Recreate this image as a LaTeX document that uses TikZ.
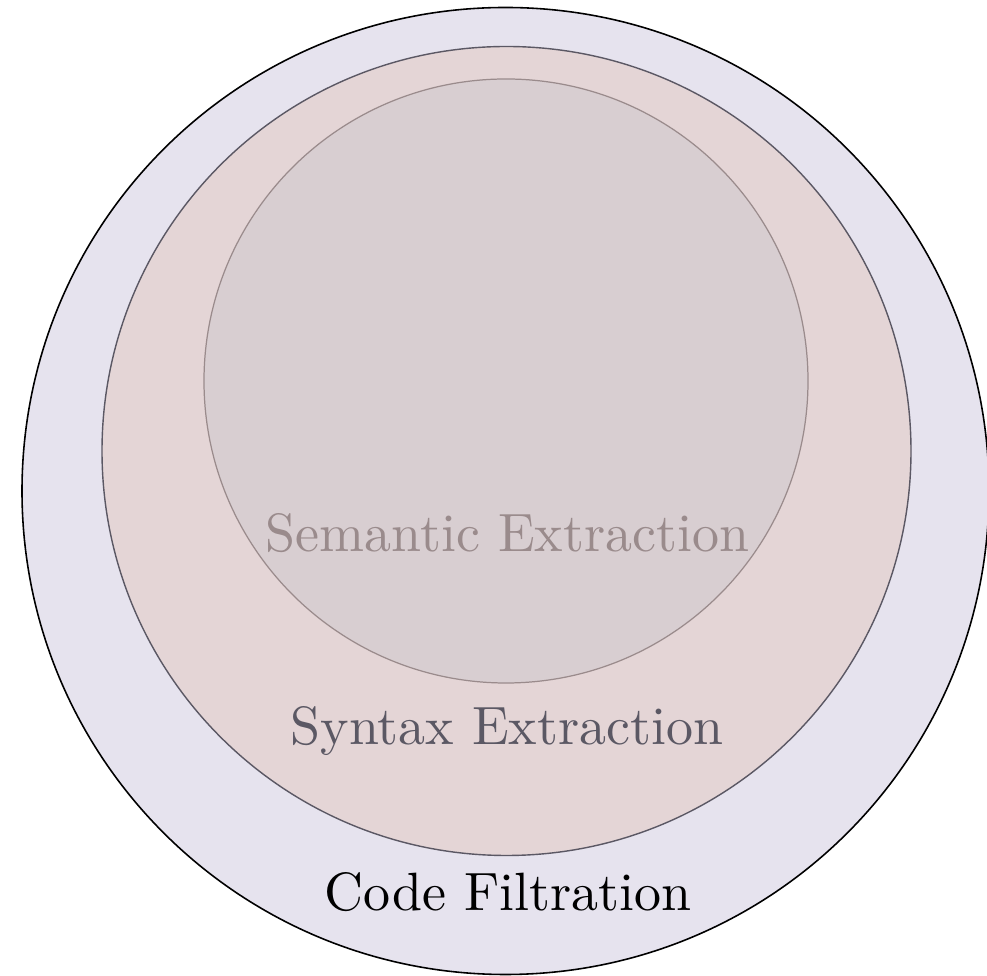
\documentclass[tikz,border=0pt]{standalone}
\usepackage{fontspec}
\usepackage{tikz}
\usetikzlibrary{positioning}

\newfontfamily\lmten{lmroman10-regular.otf}

\definecolor{filtfill}{HTML}{E6E3EE}
\definecolor{synfill}{HTML}{E4D5D6}
\definecolor{synline}{HTML}{5B5864}
\definecolor{semfill}{HTML}{D8CED1}
\definecolor{semline}{HTML}{9A8B8C}

\begin{document}
\begin{tikzpicture}[
  ring/.style={circle,inner sep=0pt},
  lbl/.style={font=\lmten\fontsize{30.7}{37}\selectfont,anchor=base,inner sep=0pt}]
\useasboundingbox (0,0) rectangle (19.74,19.52);
\node[ring,draw=black,line width=0.9pt,fill=filtfill,minimum size=19.34cm] (CF) at (10.11,9.70) {};
\node[ring,draw=synline,line width=0.8pt,fill=synfill,minimum size=16.18cm] (SY) at (10.13,10.50) {};
\node[ring,draw=semline,line width=0.7pt,fill=semfill,minimum size=12.08cm] (SE) at (10.12,11.90) {};

\node[lbl,text=semline] (SEt) at (10.15,8.48) {Semantic Extraction};
\node[lbl,text=synline] (SYt) at (10.14,4.62) {Syntax Extraction};
\node[lbl,text=black] (CFt) at (10.16,1.30) {Code Filtration};
\end{tikzpicture}
\end{document}
